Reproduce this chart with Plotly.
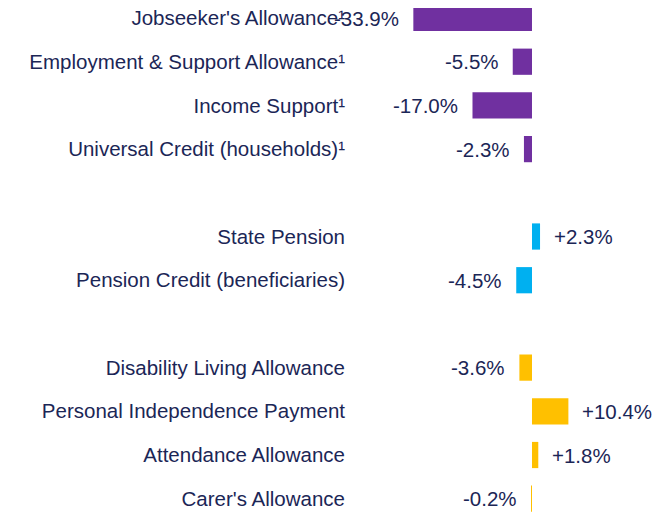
import plotly.graph_objects as go

categories = [
    "Jobseeker's Allowance¹",
    "Employment & Support Allowance¹",
    "Income Support¹",
    "Universal Credit (households)¹",
    "",
    "State Pension",
    "Pension Credit (beneficiaries)",
    "",
    "Disability Living Allowance",
    "Personal Independence Payment",
    "Attendance Allowance",
    "Carer's Allowance",
]
values = [-33.9, -5.5, -17.0, -2.3, None, 2.3, -4.5, None, -3.6, 10.4, 1.8, -0.2]
groups = ["work", "work", "work", "work", None, "pension", "pension", None,
          "disability", "disability", "disability", "disability"]
group_colors = {"work": "#7030A0", "pension": "#00B0F0", "disability": "#FFC000"}

TEXT = "#1B2656"
FONT = "Liberation Sans, Arial, sans-serif"
FS = 20.5

rows = [i for i, v in enumerate(values) if v is not None]

fig = go.Figure()
fig.add_trace(go.Bar(
    x=[values[i] for i in rows],
    y=rows,
    orientation="h",
    width=0.6,
    marker=dict(color=[group_colors[groups[i]] for i in rows], line=dict(width=0)),
    hoverinfo="skip",
))

for i in rows:
    v = values[i]
    fig.add_annotation(
        x=v, y=i, text=f"{v:+.1f}%", showarrow=False,
        xanchor="right" if v < 0 else "left",
        xshift=-12 if v < 0 else 12,
        font=dict(family=FONT, size=FS, color=TEXT),
    )

fig.update_layout(
    width=663, height=513,
    margin=dict(l=352, r=8, t=0, b=8),
    paper_bgcolor="white", plot_bgcolor="white",
    showlegend=False,
    font=dict(family=FONT, size=FS, color=TEXT),
)
fig.update_xaxes(range=[-49.14, 37.43], visible=False, fixedrange=True)
fig.update_yaxes(
    range=[11.327, -0.229],
    tickvals=rows, ticktext=[categories[i] for i in rows],
    showgrid=False, zeroline=False, showline=False, ticks="",
    ticklabelstandoff=14, automargin=False, ticklabeloverflow="allow",
    tickfont=dict(family=FONT, size=FS, color=TEXT),
)

fig.write_html("out.html")
